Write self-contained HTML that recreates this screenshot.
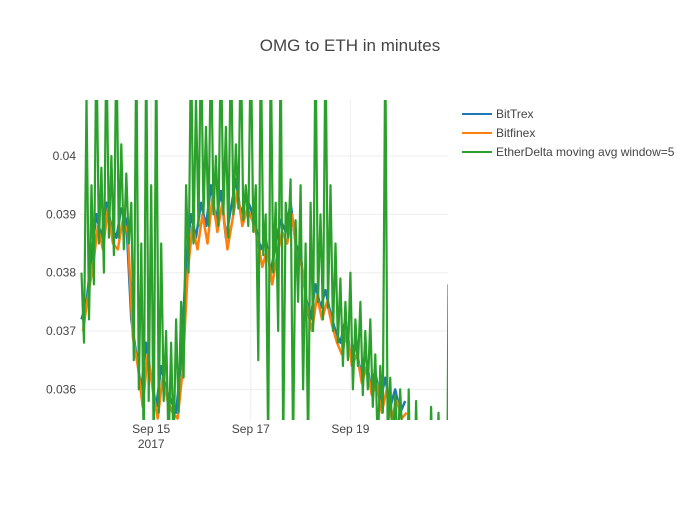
<!DOCTYPE html>
<html><head><meta charset="utf-8"><style>
body{margin:0;background:#fff;font-family:"Liberation Sans",sans-serif}
svg text{font-family:"Liberation Sans",sans-serif;fill:#444}
</style></head><body>
<svg id="chart" width="700" height="500">
<rect width="700" height="500" fill="#fff"/>
<text x="350" y="51" text-anchor="middle" font-size="17">OMG to ETH in minutes</text>
<g id="grid"></g>
<defs><clipPath id="clip"><rect x="80" y="100" width="368" height="320"/></clipPath></defs>
<g id="series" clip-path="url(#clip)"></g>
<g id="axes"></g>
<g id="legend"></g>
</svg>
<script>
const yTicks=[0.036,0.037,0.038,0.039,0.04];
const yTickLabels=["0.036","0.037","0.038","0.039","0.04"];
const xTicks=[15,17,19];
const xTickLabels=["Sep 15","Sep 17","Sep 19"];
const baseStart=13.6, baseStep=0.1;
const bittrex=[.0372,.0375,.0383,.0390,.0386,.0392,.0388,.0386,.0391,.0389,.0372,.0366,.0360,.0368,.0362,.0357,.0364,.0360,.0358,.0356,.0365,.0382,.0390,.0386,.0392,.0388,.0395,.0389,.0394,.0386,.0391,.0396,.0390,.0393,.0391,.0388,.0384,.0386,.0380,.0385,.0389,.0387,.0392,.0385,.0383,.0376,.0372,.0378,.0374,.0377,.0373,.0370,.0368,.0372,.0366,.0368,.0363,.0366,.0361,.0363,.0358,.0362,.0357,.0360,.0356,.0358];
const bitfinex=[.0370,.0376,.0381,.0388,.0384,.0391,.0385,.0384,.0389,.0387,.0369,.0364,.0357,.0366,.0360,.0355,.0362,.0358,.0356,.0355,.0363,.0380,.0388,.0384,.0390,.0385,.0393,.0387,.0392,.0384,.0389,.0394,.0388,.0391,.0389,.0386,.0381,.0384,.0378,.0383,.0387,.0385,.0390,.0383,.0381,.0374,.0370,.0376,.0372,.0375,.0371,.0368,.0366,.0370,.0364,.0366,.0361,.0364,.0359,.0361,.0356,.0360,.0355,.0358,.0355,.0356];
const greenStart=13.6, greenStep=0.05;
const etherdelta=[.0380,.0368,.0410,.0372,.0395,.0378,.0420,.0385,.0398,.0380,.0420,.0386,.0400,.0383,.0420,.0386,.0402,.0384,.0397,.0385,.0392,.0365,.0420,.0360,.0385,.0350,.0420,.0358,.0395,.0350,.0420,.0356,.0385,.0358,.0370,.0350,.0368,.0350,.0372,.0356,.0375,.0362,.0395,.0380,.0420,.0385,.0410,.0388,.0420,.0390,.0405,.0388,.0420,.0390,.0400,.0388,.0420,.0390,.0405,.0386,.0420,.0390,.0402,.0391,.0420,.0389,.0395,.0388,.0420,.0387,.0395,.0365,.0420,.0383,.0390,.0350,.0420,.0380,.0392,.0370,.0420,.0350,.0392,.0386,.0396,.0350,.0389,.0375,.0395,.0360,.0385,.0350,.0392,.0370,.0420,.0375,.0390,.0372,.0420,.0374,.0395,.0370,.0385,.0368,.0379,.0364,.0375,.0365,.0380,.0360,.0372,.0364,.0375,.0359,.0370,.0360,.0372,.0357,.0366,.0350,.0364,.0356,.0420,.0350,.0362,.0350,.0359,.0350,.0360,.0350];
const greenTailT=[20.15,20.17,20.19,20.3,20.32,20.34,20.6,20.62,20.64,20.75,20.77,20.79,20.95,20.97];
const greenTailV=[.0350,.0360,.0350,.0350,.0358,.0350,.0350,.0357,.0350,.0350,.0356,.0350,.0350,.0378];

const NS="http://www.w3.org/2000/svg";
const X0=80,X1=448,Y0=100,Y1=420,T0=13.57,T1=20.96,V0=0.035475,V1=0.04096;
const xs=t=>X0+(t-T0)/(T1-T0)*(X1-X0);
const ys=v=>Y1-(v-V0)/(V1-V0)*(Y1-Y0);
function mk(tag,attrs,parent){const e=document.createElementNS(NS,tag);for(const k in attrs)e.setAttribute(k,attrs[k]);parent.appendChild(e);return e;}
const grid=document.getElementById('grid'),axes=document.getElementById('axes'),series=document.getElementById('series'),legend=document.getElementById('legend');
yTicks.forEach((v,i)=>{
  const l=mk('line',{x1:X0,x2:X1,y1:ys(v),y2:ys(v),stroke:'#eee','stroke-width':1},grid);
  
  
  const t=mk('text',{x:76,y:ys(v)+4,'text-anchor':'end','font-size':12},axes);
  t.textContent=yTickLabels[i];
  
  
});
xTicks.forEach((d,i)=>{
  const l=mk('line',{x1:xs(d),x2:xs(d),y1:Y0,y2:Y1,stroke:'#eee','stroke-width':1},grid);
  
  
  const t=mk('text',{x:xs(d),y:433,'text-anchor':'middle','font-size':12},axes);
  t.textContent=xTickLabels[i];
  
  
});
const yr=mk('text',{x:xs(15),y:448,'text-anchor':'middle','font-size':12},axes);
yr.textContent='2017';


function path(ts,vs,color,name,w){
  const d=ts.map((t,i)=>(i?'L':'M')+xs(t).toFixed(1)+','+ys(vs[i]).toFixed(1)).join('');
  const p=mk('path',{d:d,fill:'none',stroke:color,'stroke-width':w,'stroke-linejoin':'round'},series);
  
  
}
path(bittrex.map((v,i)=>baseStart+i*baseStep),bittrex,'#1f77b4','bittrex-line',2.5);
path(bitfinex.map((v,i)=>baseStart+i*baseStep+0.03),bitfinex,'#ff7f0e','bitfinex-line',2.5);
const gT=etherdelta.map((v,i)=>greenStart+i*greenStep).concat(greenTailT);
const gV=etherdelta.concat(greenTailV);
path(gT,gV,'#2ca02c','etherdelta-line',2.2);
[['BitTrex','#1f77b4'],['Bitfinex','#ff7f0e'],['EtherDelta moving avg window=5','#2ca02c']].forEach((e,i)=>{
  const g=mk('g',{},legend);
  
  
  const y=114+i*19;
  mk('line',{x1:462,x2:492,y1:y,y2:y,stroke:e[1],'stroke-width':2},g);
  const t=mk('text',{x:496,y:y+4,'font-size':12},g);
  t.textContent=e[0];
});
</script>
</body></html>
